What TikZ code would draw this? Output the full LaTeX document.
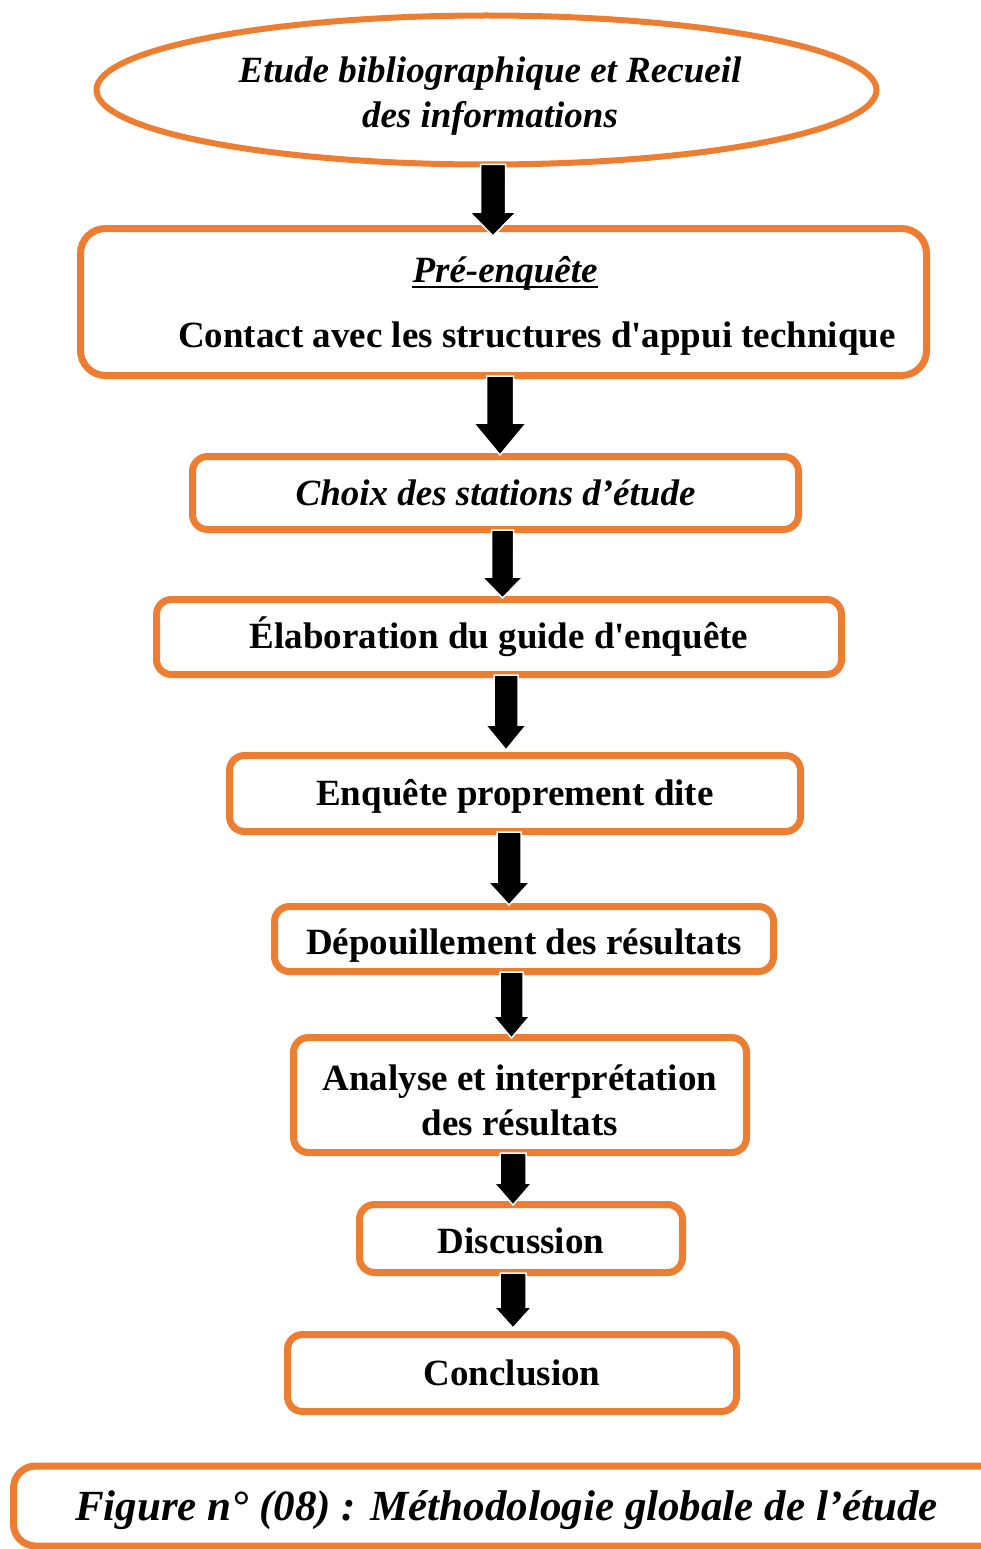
\documentclass[tikz,border=0pt]{standalone}
\usepackage{fontspec}
\setmainfont{Liberation Serif}[Ligatures=TeXOff]
\usetikzlibrary{calc,shapes.geometric}
\definecolor{orng}{HTML}{ED7D31}
\tikzset{
  box/.style={draw=orng, line width=7pt, rounded corners=15pt, inner sep=0pt, align=center,
    font=\bfseries\fontsize{37}{45}\selectfont},
  barrow/.style={fill=black, draw=white, line width=1.5pt},
  plaintext/.style={inner sep=0pt, align=center, font=\bfseries\fontsize{37}{45}\selectfont},
  bi/.style={font=\bfseries\itshape\fontsize{37}{45}\selectfont},
}
\newcommand\lowerby[2]{\raisebox{-#1}[\height][\depth]{#2}}
% from, to, x, shaft half width, head half width, head length, tip overshoot
\newcommand\blockarrow[7]{%
  \path let \p1=(#1.south), \p2=(#2.north) in [barrow]
    (#3pt-#4pt,\y1+3pt) -- (#3pt+#4pt,\y1+3pt) -- (#3pt+#4pt,\y2-#7pt+#6pt)
    -- (#3pt+#5pt,\y2-#7pt+#6pt) -- (#3pt,\y2-#7pt) -- (#3pt-#5pt,\y2-#7pt+#6pt)
    -- (#3pt-#4pt,\y2-#7pt+#6pt) -- cycle;}
\begin{document}
\begin{tikzpicture}[x=1pt,y=-1pt]
\useasboundingbox[fill=white] (0,0) rectangle (980,1549);
% ellipse
\node[draw=orng, line width=6pt, ellipse, minimum width=780pt, minimum height=149pt, inner sep=0pt] (e) at (486.5,90) {};
\node[plaintext, bi] (et) at (490,96) {Etude bibliographique et Recueil\\des informations};
% boxes
\node[box, rounded corners=25pt, minimum width=846pt, minimum height=147pt] (b1) at (503.5,302) {};
\node[plaintext, bi, anchor=base] (t1a) at (505,282) {Pré-enquête};
\draw[line width=2.6pt] ([yshift=-5pt]t1a.base west) -- ([yshift=-5pt]t1a.base east);
\node[plaintext, anchor=base] (t1b) at (537,347) {Contact avec les structures d'appui technique};
\node[box, bi, minimum width=606pt, minimum height=73pt] (b2) at (495.5,493) {Choix des stations d’étude};
\node[box, minimum width=685pt, minimum height=75pt] (b3) at (499,637) {Élaboration du guide d'enquête};
\node[box, minimum width=571pt, minimum height=76pt] (b4) at (515,793.5) {\lowerby{3pt}{Enquête proprement dite}};
\node[box, minimum width=499pt, minimum height=65pt] (b5) at (524,939) {\lowerby{7pt}{Dépouillement des résultats}};
\node[box, minimum width=453pt, minimum height=115pt] (b6) at (520,1095) {};
\node[plaintext] (t6) at (520,1100) {Analyse et interprétation\\des résultats};
\node[box, minimum width=323pt, minimum height=68pt] (b7) at (521,1238.5) {\lowerby{2pt}{Discussion}};
\node[box, minimum width=449pt, minimum height=77pt] (b8) at (512,1373) {Conclusion};
\node[box, rounded corners=22pt, minimum width=996pt, minimum height=80pt] (fig) at (511.5,1506) {};
\node[plaintext, font=\bfseries\itshape\fontsize{43}{50}\selectfont, anchor=base] (figt) at (506.5,1520) {Figure n° (08) : Méthodologie globale de l’étude};
% arrows
\blockarrow{e}{b1}{493}{12.5}{23.5}{24}{11}
\blockarrow{b1}{b2}{500}{13.5}{26.5}{32}{2}
\blockarrow{b2}{b3}{502.5}{11}{20.5}{21}{2}
\blockarrow{b3}{b4}{506}{12}{20.5}{25}{-2}
\blockarrow{b4}{b5}{509}{12}{21}{23}{2}
\blockarrow{b5}{b6}{511.5}{11.5}{18.5}{22}{4}
\blockarrow{b6}{b7}{513}{13}{19}{22}{4}
\blockarrow{b7}{b8}{513}{13}{19}{21}{-3}
\end{tikzpicture}
\end{document}
